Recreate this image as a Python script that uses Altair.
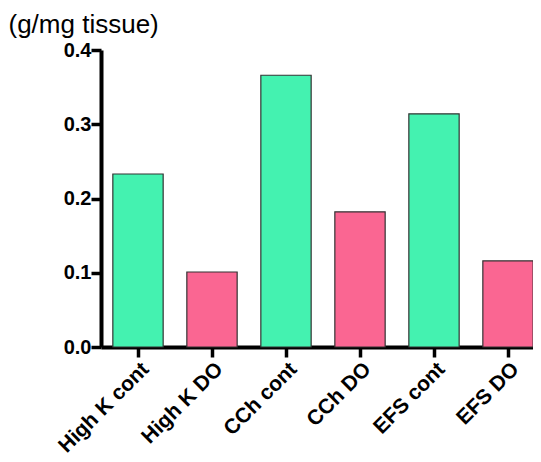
import altair as alt
import pandas as pd

categories = ["High K cont", "High K DO", "CCh cont", "CCh DO", "EFS cont", "EFS DO"]
values = [0.233, 0.101, 0.366, 0.182, 0.314, 0.116]
groups = ["cont", "DO", "cont", "DO", "cont", "DO"]
y_ticks = [0.0, 0.1, 0.2, 0.3, 0.4]

df = pd.DataFrame({"cat": categories, "val": values, "grp": groups})

chart = alt.Chart(df).mark_bar(stroke="#333333", strokeWidth=1.2).encode(
    x=alt.X("cat:N", sort=categories, title=None,
            scale=alt.Scale(paddingInner=0.32, paddingOuter=0.16),
            axis=alt.Axis(labelAngle=-45, labelAlign="right", labelBaseline="top",
                          labelFont="Liberation Sans", labelFontSize=21, labelFontWeight="bold",
                          labelColor="black", domainColor="black", domainWidth=4,
                          tickColor="black", tickWidth=3.5, tickSize=10, labelPadding=1)),
    y=alt.Y("val:Q", title="(g/mg tissue)",
            scale=alt.Scale(domain=[0, 0.4], nice=False),
            axis=alt.Axis(values=y_ticks, format=".1f", grid=False,
                          labelFont="Liberation Sans", labelFontSize=20, labelFontWeight="bold",
                          labelColor="black", domainColor="black", domainWidth=4,
                          tickColor="black", tickWidth=3.5, tickSize=10, labelPadding=0,
                          titleAngle=0, titleX=-93, titleY=-39, titleAlign="left",
                          titleBaseline="top", titleFont="Liberation Sans", titleFontSize=26,
                          titleFontWeight="normal", titleColor="black")),
    color=alt.Color("grp:N", scale=alt.Scale(domain=["cont", "DO"], range=["#44F2B0", "#FA6692"]),
                    legend=None),
).properties(
    width=444, height=297,
    padding={"left": 0, "top": 3, "right": -12, "bottom": 0},
).configure_view(stroke=None)

chart.save("out.html", embed_options={"renderer": "svg", "actions": False})
